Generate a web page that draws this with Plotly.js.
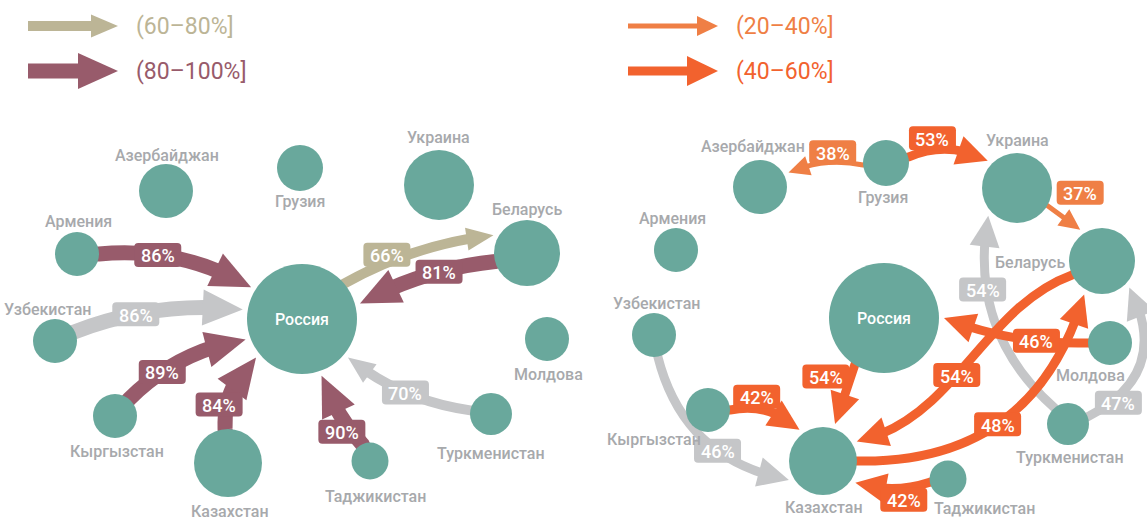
<!DOCTYPE html>
<html><head><meta charset="utf-8">
<script src="https://cdn.plot.ly/plotly-3.0.1.min.js"></script>
<style>html,body{margin:0;padding:0;background:#fff}#chart{width:1147px;height:520px}</style>
</head><body><div id="chart"></div>
<script>
// ---------------- DATA ----------------
const countries = ['Россия','Украина','Беларусь','Казахстан','Азербайджан','Грузия','Армения','Узбекистан','Молдова','Кыргызстан','Туркменистан','Таджикистан'];
const nodeValue = [55,35,33,34,27,23,22,22,22,22,21,18.5];
const binLabels = ['(20–40%]','(40–60%]','(60–80%]','(80–100%]'];

const leftFrom = ['Армения','Узбекистан','Кыргызстан','Казахстан','Таджикистан','Туркменистан','Россия','Беларусь'];
const leftTo   = ['Россия','Россия','Россия','Россия','Россия','Россия','Беларусь','Россия'];
const leftPct  = [86,86,89,84,90,70,66,81];
const leftGrey = [false,true,false,false,false,true,false,false];

const rightFrom = ['Туркменистан','Туркменистан','Узбекистан','Грузия','Грузия','Украина','Кыргызстан','Россия','Таджикистан','Молдова','Беларусь','Казахстан'];
const rightTo   = ['Украина','Беларусь','Казахстан','Азербайджан','Украина','Беларусь','Казахстан','Казахстан','Казахстан','Россия','Казахстан','Беларусь'];
const rightPct  = [54,47,46,38,53,37,42,54,42,46,54,48];
const rightGrey = [true,true,true,false,false,false,false,false,false,false,false,false];

// ---------------- LAYOUT / STYLE ----------------
const leftPos = {'Россия':[302,319],'Украина':[439,185],'Беларусь':[527,253],'Казахстан':[228,463],'Азербайджан':[166,191],'Грузия':[300,168],'Армения':[77,254],'Узбекистан':[55,341],'Молдова':[547,339],'Кыргызстан':[115,416],'Туркменистан':[491,414],'Таджикистан':[370,461]};
const rightPos = {'Россия':[884,318],'Украина':[1017,188],'Беларусь':[1102,261],'Казахстан':[823,461],'Азербайджан':[760,187],'Грузия':[886,163],'Армения':[676,250],'Узбекистан':[654,335],'Молдова':[1110,343],'Кыргызстан':[708,410],'Туркменистан':[1068,424],'Таджикистан':[948,479]};
const leftLab = {'Азербайджан':[1,-36],'Грузия':[0,33],'Украина':[-1,-48],'Беларусь':[0,-44],'Армения':[1,-33],'Узбекистан':[-8,-32],'Молдова':[1,35],'Кыргызстан':[2,35],'Казахстан':[2,48],'Таджикистан':[5,35],'Туркменистан':[0,39]};
const rightLab = {'Азербайджан':[-7,-41],'Грузия':[-3,34],'Украина':[0,-48],'Беларусь':[-72,1],'Армения':[-4,-32],'Узбекистан':[2,-32],'Молдова':[-20,32],'Кыргызстан':[-54,29],'Туркменистан':[2,33],'Казахстан':[1,46],'Таджикистан':[36,29]};
// [startAngle, endAngle, bend1, bend2, labelT, labelDx, labelDy]
const leftGeom = [
 [0,-148,0.08,0.08,0.37,0,0],
 [-25,-171,0.06,0.06,0.37,0,0],
 [-50,160,0.08,0.08,0.32,0,0],
 [-95,140,0.12,0.12,0.3,-8,0],
 [-115,71,0.05,0.05,0.2,-10,0],
 [-170,40,0.07,0.07,0.5,0,0],
 [-40,-152,0.05,0.05,0.3,0,-8],
 [165,-15,-0.05,-0.05,0.4,0,0]
];
const rightGeom = [
 [-130,136,0.14,0.14,0.66,-4,0],
 [-20,44,-0.25,-0.25,0.12,12,-3],
 [80,151,-0.16,-0.16,0.6,0,0],
 [175,-27,-0.08,-0.08,0.4,0,-10],
 [-15,-137,0.12,0.12,0.3,0,-12],
 [30,-125,0,0,0.3,23,-20],
 [0,-127,0.13,0.13,0.35,0,-12],
 [122,-72,0,0,0.2,-25,0],
 [170,34,0.08,0.08,0.35,0,12],
 [180,0,0.05,0.05,0.35,0,0],
 [155,-30,-0.08,0.12,0.56,0,0],
 [0,118,-0.19,-0.19,0.48,0,0]
];
const binColor = ['#ef7f45','#f2622e','#bcb596','#985b6b'];
const binBody  = [5,9,10,15];
const binHeadL = [21,31,27,40];
const binHeadW = [20,30,23,36];
const GREY = '#c5c6c8', TEAL = '#69a89c', LABEL = '#a7a9ac';
const GAP = 5;
const FONT = 'Roboto, "DejaVu Sans", sans-serif';

function binOf(p){ return p<=40?0:(p<=60?1:(p<=80?2:3)); }
const radiusOf = name => nodeValue[countries.indexOf(name)];

function bez(P,t){const u=1-t;return [u*u*u*P[0][0]+3*u*u*t*P[1][0]+3*u*t*t*P[2][0]+t*t*t*P[3][0], u*u*u*P[0][1]+3*u*u*t*P[1][1]+3*u*t*t*P[2][1]+t*t*t*P[3][1]];}
function lerp(a,b,t){return [a[0]+(b[0]-a[0])*t,a[1]+(b[1]-a[1])*t];}
const f = p => p[0].toFixed(2)+','+p[1].toFixed(2);

const shapes = [], annotations = [];

function drawArrow(c0, p0, p3, b1, b2, bin, color){
  const dx=p3[0]-p0[0], dy=p3[1]-p0[1], L=Math.hypot(dx,dy);
  const nx=dy/L, ny=-dx/L, k=4/3*L;
  const p1=[p0[0]+dx/3+nx*b1*k, p0[1]+dy/3+ny*b1*k];
  const p2=[p0[0]+2*dx/3+nx*b2*k, p0[1]+2*dy/3+ny*b2*k];
  const P=[p0,p1,p2,p3];
  const hl=binHeadL[bin], hw=binHeadW[bin]/2;
  let tb=0, tBody=0;
  for(let s=1;s>0;s-=0.001){const q=bez(P,s); if(Math.hypot(q[0]-p3[0],q[1]-p3[1])>=hl){tb=s;break;}}
  for(let s=1;s>0;s-=0.001){const q=bez(P,s); if(Math.hypot(q[0]-p3[0],q[1]-p3[1])>=hl*0.8){tBody=s;break;}}
  const t=tBody;
  const a01=lerp(p0,p1,t), a12=lerp(p1,p2,t), a23=lerp(p2,p3,t);
  const a012=lerp(a01,a12,t), a123=lerp(a12,a23,t), a0123=lerp(a012,a123,t);
  let path='M '+f(c0)+' L '+f(p0)+' C '+f(a01)+' '+f(a012)+' '+f(a0123);
  shapes.push({type:'path',path:path,xref:'x',yref:'y',layer:'below',line:{color:color,width:binBody[bin]},fillcolor:'rgba(0,0,0,0)'});
  const base=bez(P,tb);
  let ux=p3[0]-base[0], uy=p3[1]-base[1]; const ul=Math.hypot(ux,uy); ux/=ul; uy/=ul;
  const bc=[p3[0]-ux*hl, p3[1]-uy*hl];
  const h1=[bc[0]-uy*hw, bc[1]+ux*hw], h2=[bc[0]+uy*hw, bc[1]-ux*hw];
  shapes.push({type:'path',path:'M '+f(p3)+' L '+f(h1)+' L '+f(h2)+' Z',xref:'x',yref:'y',layer:'below',line:{width:0},fillcolor:color});
  return P;
}

function roundRect(cx,cy,w,h,r,color){
  const x0=cx-w/2,x1=cx+w/2,y0=cy-h/2,y1=cy+h/2;
  const p=`M ${x0+r},${y0} H ${x1-r} Q ${x1},${y0} ${x1},${y0+r} V ${y1-r} Q ${x1},${y1} ${x1-r},${y1} H ${x0+r} Q ${x0},${y1} ${x0},${y1-r} V ${y0+r} Q ${x0},${y0} ${x0+r},${y0} Z`;
  shapes.push({type:'path',path:p,xref:'x',yref:'y',layer:'above',line:{width:0},fillcolor:color});
}

function drawPanel(pos, from, to, pct, grey, geom){
  const labels=[];
  for(let i=0;i<from.length;i++){
    const g=geom[i], A=pos[from[i]], B=pos[to[i]];
    const ra=radiusOf(from[i]), rb=radiusOf(to[i]);
    const sa=g[0]*Math.PI/180, ea=g[1]*Math.PI/180;
    const p0=[A[0]+ra*Math.cos(sa), A[1]+ra*Math.sin(sa)];
    const p3=[B[0]+(rb+GAP)*Math.cos(ea), B[1]+(rb+GAP)*Math.sin(ea)];
    const bin=binOf(pct[i]);
    const color=grey[i]?GREY:binColor[bin];
    const P=drawArrow(A,p0,p3,g[2],g[3],bin,color);
    const q=bez(P,g[4]);
    labels.push([q[0]+g[5], q[1]+g[6], pct[i], color]);
  }
  labels.forEach(l=>{
    roundRect(l[0],l[1],47,24,4,l[3]);
    annotations.push({x:l[0],y:l[1]+1,xref:'x',yref:'y',text:l[2]+'%',showarrow:false,xanchor:'center',yanchor:'middle',
      font:{family:FONT,size:18,color:'#ffffff',weight:500}});
  });
}

drawPanel(leftPos,leftFrom,leftTo,leftPct,leftGrey,leftGeom);
drawPanel(rightPos,rightFrom,rightTo,rightPct,rightGrey,rightGeom);

// legend
const legendPlace = [[628,26],[628,71],[28,26],[28,71]];
binLabels.forEach((lab,b)=>{
  const [x,y]=legendPlace[b];
  drawArrow([x,y],[x,y],[x+90,y],0,0,b,binColor[b]);
  annotations.push({x:x+106,y:y,xref:'x',yref:'y',text:lab,showarrow:false,xanchor:'left',yanchor:'middle',
    font:{family:FONT,size:23,color:binColor[b]}});
});

// node labels
function nodeLabels(pos,lab){
  countries.forEach(c=>{
    if(c==='Россия'){
      annotations.push({x:pos[c][0],y:pos[c][1],xref:'x',yref:'y',text:c,showarrow:false,xanchor:'center',yanchor:'middle',font:{family:FONT,size:16,color:'#ffffff',weight:500}});
    } else {
      annotations.push({x:pos[c][0]+lab[c][0],y:pos[c][1]+lab[c][1],xref:'x',yref:'y',text:c,showarrow:false,xanchor:'center',yanchor:'middle',font:{family:FONT,size:16,color:LABEL,weight:500}});
    }
  });
}
nodeLabels(leftPos,leftLab);
nodeLabels(rightPos,rightLab);

const nodeTrace = pos => ({type:'scatter',mode:'markers',x:countries.map(c=>pos[c][0]),y:countries.map(c=>pos[c][1]),
  marker:{size:nodeValue.map(v=>2*v),color:TEAL,line:{width:0},opacity:1},hoverinfo:'text',text:countries,showlegend:false});

Plotly.newPlot('chart',[nodeTrace(leftPos),nodeTrace(rightPos)],{
  width:1147,height:520,margin:{l:0,r:0,t:0,b:0},paper_bgcolor:'#ffffff',plot_bgcolor:'#ffffff',
  xaxis:{range:[0,1147],visible:false,fixedrange:true},
  yaxis:{range:[520,0],visible:false,fixedrange:true},
  shapes:shapes,annotations:annotations,showlegend:false
},{staticPlot:true});
</script></body></html>
